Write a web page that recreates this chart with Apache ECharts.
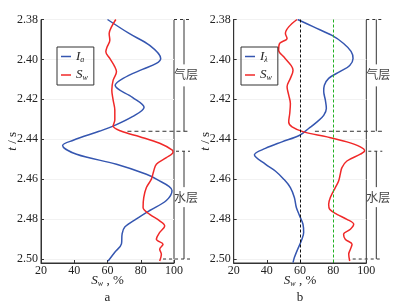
<!DOCTYPE html>
<html>
<head>
<meta charset="utf-8">
<script src="https://cdn.jsdelivr.net/npm/echarts@6/dist/echarts.min.js"></script>
<style>
  html, body { margin: 0; padding: 0; background: #fff; }
  #chart { width: 414px; height: 307px; }
</style>
</head>
<body>
<div id="chart"></div>
<script>
// panel a: I_a curve
const tIa = [2.380, 2.387, 2.393, 2.3995, 2.402, 2.405, 2.4095, 2.413, 2.419, 2.424, 2.4287, 2.4334, 2.436,
  2.4405, 2.4431, 2.4475, 2.4525, 2.4575, 2.460, 2.4657, 2.4707, 2.4757, 2.4799, 2.484, 2.4874, 2.4924, 2.4966, 2.501];
const vIa = [60, 73, 85.4, 92, 89.4, 81, 69.4, 64.6, 75, 82, 75, 63.4, 55,
  39.4, 33, 41.4, 65.4, 83.4, 89.4, 98.8, 95.4, 85.4, 77.4, 70.4, 68.8, 68.4, 64.4, 60.4];

// panel a: S_w curve
const tSwA = [2.380, 2.3837, 2.387, 2.3904, 2.3937, 2.3962, 2.3995, 2.4037, 2.4062, 2.4104, 2.4154, 2.4204,
  2.4254, 2.4304, 2.4334, 2.436, 2.4387, 2.442, 2.4454, 2.4465, 2.4492, 2.4525, 2.4559, 2.460, 2.4642,
  2.4692, 2.4742, 2.4776, 2.4809, 2.4834, 2.4867, 2.4901, 2.4926, 2.4951, 2.4976, 2.501];
const vSwA = [65, 62.4, 61, 61.4, 59.8, 59, 61.4, 64.4, 65.4, 63.4, 62.6, 63.4,
  64.4, 64.4, 63.4, 68.4, 79.4, 91.4, 99, 99.4, 95.4, 89.4, 87.8, 86.4, 83.4,
  81.8, 81.4, 85.4, 91.4, 94.4, 91.4, 89.4, 93.4, 91.4, 92.4, 91.4];

// panel b: I_lambda curve
const tIl = [2.380, 2.3837, 2.388, 2.392, 2.396, 2.3995, 2.403, 2.406, 2.4095, 2.413, 2.416, 2.4204, 2.4246,
  2.428, 2.4313, 2.4346, 2.438, 2.4413, 2.4446, 2.4478, 2.4525, 2.4559, 2.460, 2.4642, 2.4692, 2.4742,
  2.4784, 2.4826, 2.4867, 2.4909, 2.4951, 2.4993, 2.5018];
const vIl = [58.6, 68.2, 79.3, 86.3, 90.8, 92, 90, 84.3, 77.3, 74.7, 74.3, 75.3, 75.9,
  74.3, 70.3, 65.2, 59.8, 49.1, 39.1, 32.5, 39.1, 45.1, 50.2, 54.2, 56.6, 57.8,
  59.8, 61.8, 62.2, 60.8, 58.6, 56.6, 55.8];

// panel b: S_w curve
const tSwB = [2.380, 2.3837, 2.387, 2.3895, 2.392, 2.3954, 2.3987, 2.403, 2.4054, 2.4095, 2.4137, 2.4179,
  2.4221, 2.4271, 2.4313, 2.4338, 2.4363, 2.4388, 2.4413, 2.4438, 2.4458, 2.4475, 2.4509, 2.4542, 2.4575,
  2.4609, 2.4642, 2.4692, 2.4726, 2.4751, 2.4776, 2.4801, 2.4826, 2.4851, 2.4876, 2.4901, 2.4926, 2.4951,
  2.4976, 2.501];
const vSwB = [58.2, 53.2, 51.2, 52.2, 47.7, 47.1, 50.2, 54.6, 55.8, 54.2, 52.2, 53.2,
  54.2, 53.8, 53.2, 55.2, 62.2, 76.3, 88.3, 96.4, 99, 96.4, 88.3, 85.3, 84.3,
  83.3, 81.3, 78.3, 77.3, 77.9, 82.3, 88.3, 92.4, 90.4, 86.3, 87.3, 91.4, 90.4,
  89.4, 90];

// cut-off lines in panel b
const cutoffB = [60, 80];
const cutoffColors = ['#111111', '#22b022'];

// zones on the right: [top, bottom], label position
const gasZone = [2.38, 2.436];
const waterZone = [2.446, 2.50];
const gasLabelT = 2.4075;
const waterLabelT = 2.469;
const contactStartX = [72, 69];   // where the gas/water dashed line starts (per panel)
const bottomStartX = [93.4, 91.8];

const pairs = (ts, vs) => ts.map((t, i) => [vs[i], t]);

const serif = 'Liberation Serif';
const blue = '#3556b0';
const red = '#f02828';

const richName = {
  it: { fontFamily: serif, fontStyle: 'italic', fontSize: 13, color: '#222' },
  sub: { fontFamily: serif, fontStyle: 'italic', fontSize: 8, color: '#222', padding: [6, 0, 0, 0] },
  n: { fontFamily: serif, fontSize: 13, color: '#222' }
};

const legendNames = { Ia: '{it|I}{sub|a}', Il: '{it|I}{sub|λ}', Sw: '{it|S}{sub|w}' };

const makeX = (gi) => ({
  type: 'value', gridIndex: gi, min: 20, max: 100, interval: 20,
  axisLine: { lineStyle: { color: '#333' } },
  axisTick: { inside: true, length: 3, lineStyle: { color: '#333' } },
  axisLabel: { fontFamily: serif, fontSize: 12, color: '#222', margin: 2 },
  splitLine: { show: false },
  name: '{it|S}{sub|w}{n| , %}', nameLocation: 'middle', nameGap: 11,
  nameMoveOverlap: false,
  nameTextStyle: { rich: richName }
});

const makeY = (gi) => ({
  type: 'value', gridIndex: gi, min: 2.38, max: 2.502, interval: 0.02, inverse: true,
  axisLine: { lineStyle: { color: '#333' } },
  axisTick: { inside: true, length: 3, lineStyle: { color: '#333' } },
  axisLabel: { fontFamily: serif, fontSize: 12, color: '#222', margin: 3,
    formatter: v => v.toFixed(2) },
  splitLine: { show: true, lineStyle: { color: '#f2f2f2' } },
  name: '{it|t}{n| / s}', nameLocation: 'middle', nameGap: 22,
  nameMoveOverlap: false,
  nameTextStyle: { rich: richName }
});

const line = (name, data, color, gi) => ({
  name, type: 'line', xAxisIndex: gi, yAxisIndex: gi, data,
  smooth: 0.35, showSymbol: false, animation: false,
  lineStyle: { color, width: 1.5 }, itemStyle: { color }
});

const legend = (left, names) => ({
  data: names, orient: 'vertical', left, top: 47,
  icon: 'rect', itemWidth: 10, itemHeight: 1.5, itemGap: 5,
  padding: [3, 6, 3, 4], borderColor: '#333', borderWidth: 1,
  formatter: n => legendNames[n],
  textStyle: { rich: richName }
});

const chart = echarts.init(document.getElementById('chart'));

// one empty series per cut-off line, each carrying a vertical markLine
const cutSeries = cutoffB.map((x, i) => {
  const s = line('cut' + i, [], cutoffColors[i], 1);
  s.markLine = {
    silent: true, symbol: 'none', label: { show: false }, animation: false,
    lineStyle: { color: cutoffColors[i], type: [3, 2], width: 1 },
    data: [{ xAxis: x }]
  };
  return s;
});

chart.setOption({
  animation: false,
  grid: [
    { left: 41, top: 19.5, width: 133, height: 243.5, show: true, borderColor: '#333', borderWidth: 1 },
    { left: 233.7, top: 19.5, width: 132.6, height: 243.5, show: true, borderColor: '#333', borderWidth: 1 }
  ],
  xAxis: [makeX(0), makeX(1)],
  yAxis: [makeY(0), makeY(1)],
  legend: [legend(57, ['Ia', 'Sw']), legend(241, ['Il', 'Sw'])],
  series: [
    ...cutSeries,
    line('Ia', pairs(tIa, vIa), blue, 0),
    line('Sw', pairs(tSwA, vSwA), red, 0),
    line('Il', pairs(tIl, vIl), blue, 1),
    line('Sw', pairs(tSwB, vSwB), red, 1)
  ]
});

// zone brackets on the right of each panel
const graphics = [];
const dash = [3, 3];
const ink = '#333';
[0, 1].forEach(gi => {
  const px = (x, t) => chart.convertToPixel({ gridIndex: gi }, [x, t]);
  const right = px(100, 2.38)[0];
  const bx = right + 10;
  const endX = right + 16;
  const yTop = px(100, gasZone[0])[1];
  const yContact = px(100, gasZone[1])[1];
  const yWaterTop = px(100, waterZone[0])[1];
  const yBottom = px(100, waterZone[1])[1];
  const yGasLabel = px(100, gasLabelT)[1];
  const yWaterLabel = px(100, waterLabelT)[1];
  const seg = (x1, y1, x2, y2, d) => graphics.push({
    type: 'line', silent: true,
    shape: { x1, y1, x2, y2 },
    style: { stroke: ink, lineWidth: 1, lineDash: d || null }
  });
  // horizontal ends
  seg(right, yTop, endX, yTop, dash);
  seg(px(contactStartX[gi], 0)[0], yContact, endX, yContact, [4, 3]);
  seg(right + 2, yWaterTop, endX, yWaterTop, dash);
  seg(px(bottomStartX[gi], 0)[0], yBottom, endX, yBottom, dash);
  // vertical brackets with gaps for labels
  seg(bx, yTop, bx, yGasLabel - 10);
  seg(bx, yGasLabel + 12, bx, yContact);
  seg(bx, yWaterTop, bx, yWaterLabel - 10);
  seg(bx, yWaterLabel + 10, bx, yBottom);
  [['气层', yGasLabel], ['水层', yWaterLabel]].forEach(([txt, y]) => graphics.push({
    type: 'text', silent: true, x: bx + 2, y,
    style: { text: txt, fontFamily: 'Noto Sans CJK SC', fontSize: 12,
      fill: '#444', align: 'center', verticalAlign: 'middle' }
  }));
  // panel letter
  const cx = (px(20, 2.38)[0] + right) / 2;
  graphics.push({
    type: 'text', silent: true, x: cx, y: 298,
    style: { text: gi === 0 ? 'a' : 'b', fontFamily: serif, fontSize: 13,
      fill: '#222', align: 'center', verticalAlign: 'middle' }
  });
});
chart.setOption({ graphic: graphics });
</script>
</body>
</html>
